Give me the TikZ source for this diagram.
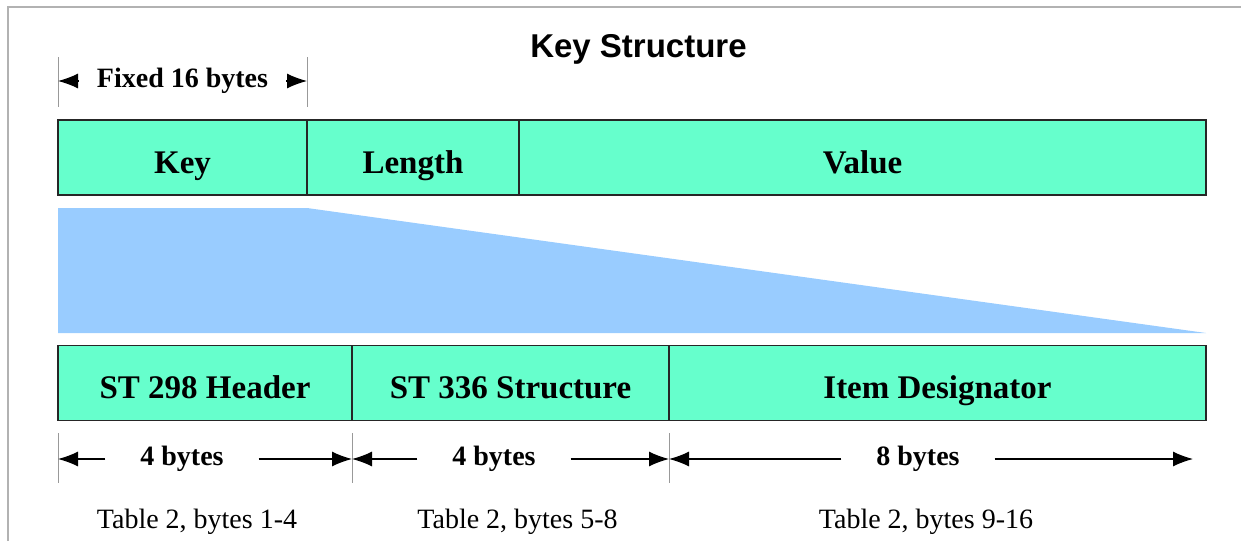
\documentclass[tikz,border=0pt]{standalone}
\usepackage{fontspec}
\setmainfont{Liberation Serif}
\newfontfamily\titlefont{Liberation Sans}
\usetikzlibrary{arrows.meta,positioning}
\definecolor{keygreen}{RGB}{102,255,204}
\definecolor{wedgeblue}{RGB}{153,204,255}
\tikzset{
  cell/.style={draw=black!85, line width=1.3pt, fill=keygreen, minimum height=75pt,
    inner sep=0pt, outer sep=0pt, text height=31pt, text depth=0pt,
    font=\fontsize{33}{36}\selectfont\bfseries},
  tick/.style={draw=black!40, line width=0.8pt},
  dimarrow/.style={-{Latex[length=20pt,width=15pt]}, line width=1.2pt},
  dimtext/.style={font=\fontsize{28}{30}\selectfont\bfseries, inner sep=0pt, outer xsep=35pt},
  tabletext/.style={font=\fontsize{28}{30}\selectfont, inner sep=0pt, anchor=base},
}
\begin{document}
\begin{tikzpicture}[x=1pt,y=-1pt]
  \useasboundingbox (0,0) rectangle (1241,541);
  %Frame
  \draw[draw=black!30, line width=1.5pt] (8,541) -- (8,7) -- (1241,7);

  %Title
  \node[font=\titlefont\fontsize{33}{36}\selectfont\bfseries, inner sep=0pt, anchor=base]
    (title) at (638.5,57) {Key Structure};

  %Fixed length
  \draw[tick] (58,57) -- (58,107);
  \draw[tick] (307,57) -- (307,107);
  \coordinate (fl) at (58,81);
  \coordinate (fr) at (307,81);
  \node[dimtext, outer xsep=18pt] (fixed) at (182.5,81) {Fixed 16 bytes};
  \draw[dimarrow] (fixed.west) -- (fl);
  \draw[dimarrow] (fixed.east) -- (fr);

  %Key - Length - Value
  \node[cell, minimum width=249pt] (key) at (182.5,157.5) {Key};
  \node[cell, minimum width=212pt, right=0pt of key] (len) {Length};
  \node[cell, minimum width=687pt, right=0pt of len] (val) {Value};

  %Wedge
  \fill[wedgeblue] (58,208) -- (307,208) -- (1206,333) -- (58,333) -- cycle;

  %Key parts
  \node[cell, minimum width=294pt] (hdr) at (205,383) {ST 298 Header};
  \node[cell, minimum width=317pt, right=0pt of hdr] (str) {ST 336 Structure};
  \node[cell, minimum width=537pt, right=0pt of str] (item) {Item Designator};

  %Byte counts
  \draw[tick] (58,433) -- (58,483);
  \draw[tick] (352,433) -- (352,483);
  \draw[tick] (669,433) -- (669,483);
  \coordinate (b0) at (58,459);
  \coordinate (b1) at (352,459);
  \coordinate (b2) at (669,459);
  \coordinate (b3) at (1193,459);
  \node[dimtext] (d1) at (182,459) {4 bytes};
  \node[dimtext] (d2) at (494,459) {4 bytes};
  \node[dimtext] (d3) at (918,459) {8 bytes};
  \draw[dimarrow] (d1.west) -- (b0);
  \draw[dimarrow] (d1.east) -- (b1);
  \draw[dimarrow] (d2.west) -- (b1);
  \draw[dimarrow] (d2.east) -- (b2);
  \draw[dimarrow] (d3.west) -- (b2);
  \draw[dimarrow] (d3.east) -- (b3);

  %References
  \node[tabletext] (t1) at (197,528) {Table 2, bytes 1-4};
  \node[tabletext] (t2) at (517.5,528) {Table 2, bytes 5-8};
  \node[tabletext] (t3) at (926,528) {Table 2, bytes 9-16};
\end{tikzpicture}
\end{document}
